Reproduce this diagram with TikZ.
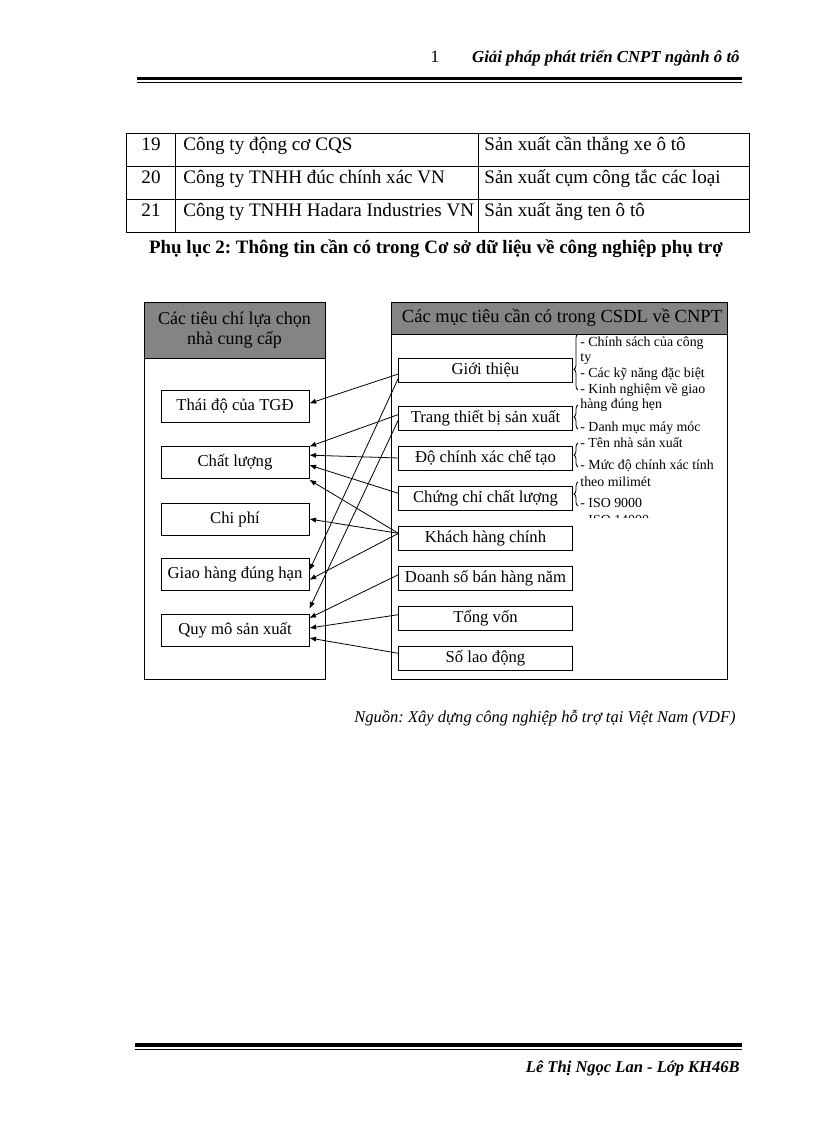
\documentclass[tikz,border=0pt]{standalone}
\usepackage{fontspec}
\setmainfont{Liberation Serif}
\usetikzlibrary{arrows.meta,decorations.pathreplacing}
\definecolor{headgray}{RGB}{132,132,132}
\frenchspacing

\begin{document}
\begin{tikzpicture}[x=0.75pt, y=-0.75pt, line width=0.6pt,
  tabtext/.style={font=\fontsize{14.3}{16}\selectfont, inner sep=0pt},
  crit/.style={rectangle, draw, minimum width=111pt, minimum height=24pt, font=\fontsize{12.5}{14}\selectfont},
  item/.style={rectangle, draw, minimum width=130pt, minimum height=18pt, inner sep=1pt, font=\fontsize{12.5}{14}\selectfont},
  note/.style={anchor=west, inner sep=0pt, font=\fontsize{10.4}{12}\selectfont},
  link/.style={-{Latex[length=5pt,width=4pt]}},
  bracket/.style={decorate, decoration={brace, amplitude=3pt, aspect=#1}}
]
  \useasboundingbox (0,0) rectangle (816,1123);
  % Header
  \node (page) [anchor=base, inner sep=0pt, font=\fontsize{13}{15}\selectfont] at (435,63) {1};
  \node (title) [anchor=base east, inner sep=0pt, font=\fontsize{12.6}{15}\selectfont\bfseries\itshape] at (740,63) {Giải pháp phát triển CNPT ngành ô tô};
  \draw[line width=2.3pt] (137,78.5) -- (742,78.5);
  \draw[line width=0.75pt] (137,82.3) -- (742,82.3);
  % Table
  \draw (126.7,133) rectangle (749,232);
  \draw (175.7,133) -- (175.7,232);
  \draw (478,133) -- (478,232);
  \draw (126.7,166) -- (749,166);
  \draw (126.7,199) -- (749,199);
  \node (n19) [tabtext, anchor=base] at (151,151) {19};
  \node (n20) [tabtext, anchor=base] at (151,184) {20};
  \node (n21) [tabtext, anchor=base] at (151,217) {21};
  \node (c19) [tabtext, anchor=base west] at (183,151) {Công ty động cơ CQS};
  \node (c20) [tabtext, anchor=base west] at (183,184) {Công ty TNHH đúc chính xác VN};
  \node (c21) [tabtext, anchor=base west] at (183,217) {Công ty TNHH Hadara Industries VN};
  \node (p19) [tabtext, anchor=base west] at (484,151) {Sản xuất cần thắng xe ô tô};
  \node (p20) [tabtext, anchor=base west] at (484,184) {Sản xuất cụm công tắc các loại};
  \node (p21) [tabtext, anchor=base west] at (484,217) {Sản xuất ăng ten ô tô};
  \node (caption) [anchor=base, inner sep=0pt, font=\fontsize{14.2}{16}\selectfont\bfseries] at (436,253) {Phụ lục 2: Thông tin cần có trong Cơ sở dữ liệu về công nghiệp phụ trợ};
  % Panels
  \draw (144,302) rectangle (325,679);
  \draw[fill=headgray] (144,302) rectangle (325,358);
  \draw (391,302) rectangle (727,679);
  \draw[fill=headgray] (391,302) rectangle (727,334);
  \node (lefthead) [align=center, font=\fontsize{13.5}{15}\selectfont] at (234.5,330) {Các tiêu chí lựa chọn\\nhà cung cấp};
  \node (righthead) [font=\fontsize{13.9}{15}\selectfont] at (562,318) {Các mục tiêu cần có trong CSDL về CNPT};
  % Nodes
  \node (thaido) [crit] at (235,406) {Thái độ của TGĐ};
  \node (chatluong) [crit] at (235,462.5) {Chất lượng};
  \node (chiphi) [crit] at (235,519) {Chi phí};
  \node (giaohang) [crit] at (235,574.5) {Giao hàng đúng hạn};
  \node (quymo) [crit] at (235,630) {Quy mô sản xuất};
  \node (gioithieu) [item] at (485.5,370) {Giới thiệu};
  \node (thietbi) [item] at (485.5,418.5) {Trang thiết bị sản xuất};
  \node (chinhxac) [item] at (485.5,458) {Độ chính xác chế tạo};
  \node (chungchi) [item] at (485.5,498) {Chứng chỉ chất lượng};
  \node (khachhang) [item] at (485.5,538) {Khách hàng chính};
  \node (doanhso) [item] at (485.5,578) {Doanh số bán hàng năm};
  \node (tongvon) [item] at (485.5,618) {Tổng vốn};
  \node (laodong) [item] at (485.5,658) {Số lao động};
  % Notes
  \begin{scope}
    \clip (578,334) rectangle (727,517);
    \node (t1) [note] at (580,343) {- Chính sách của công};
    \node (t2) [note] at (580,359) {ty};
    \node (t3) [note] at (580,374) {- Các kỹ năng đặc biệt};
    \node (t4) [note] at (580,390) {- Kinh nghiệm về giao};
    \node (t5) [note] at (580,405) {hàng đúng hẹn};
    \node (t6) [note] at (580,428) {- Danh mục máy móc};
    \node (t7) [note] at (580,443) {- Tên nhà sản xuất};
    \node (t8) [note] at (580,466) {- Mức độ chính xác tính};
    \node (t9) [note] at (580,482) {theo milimét};
    \node (t10) [note] at (580,503) {- ISO 9000};
    \node (t11) [note] at (580,520) {- ISO 14000};
  \end{scope}
  \draw[bracket=0.37] (578,390) -- (578,334);
  \draw[bracket=0.5] (578,429) -- (578,405);
  \draw[bracket=0.5] (578,467) -- (578,443);
  \draw[bracket=0.5] (578,506) -- (578,482);
  % Arrows
  \draw[link] ([yshift=-3pt]gioithieu.west) -- ([yshift=2pt]thaido.east);
  \draw[link] ([yshift=-6pt]gioithieu.west) -- ([yshift=3pt]giaohang.east);
  \draw[link] ([yshift=3pt]thietbi.west) -- ([yshift=12pt]chatluong.east);
  \draw[link] ([yshift=-1pt]thietbi.west) -- ([yshift=16pt]quymo.east);
  \draw[link] (chinhxac.west) -- ([yshift=5.5pt]chatluong.east);
  \draw[link] ([yshift=3.5pt]chungchi.west) -- ([yshift=-2pt]chatluong.east);
  \draw[link] ([yshift=3.5pt]khachhang.west) -- ([yshift=-13pt]chatluong.east);
  \draw[link] ([yshift=3.5pt]khachhang.west) -- (chiphi.east);
  \draw[link] ([yshift=3.5pt]khachhang.west) -- ([yshift=-4pt]giaohang.east);
  \draw[link] ([yshift=2.5pt]doanhso.west) -- ([yshift=9pt]quymo.east);
  \draw[link] ([yshift=2.5pt]tongvon.west) -- ([yshift=1.5pt]quymo.east);
  \draw[link] ([yshift=3.5pt]laodong.west) -- ([yshift=-6pt]quymo.east);
  % Footer
  \node (source) [anchor=east, inner sep=0pt, font=\fontsize{12.4}{15}\selectfont\itshape] at (736,718) {Nguồn: Xây dựng công nghiệp hỗ trợ tại Việt Nam (VDF)};
  \draw[line width=2.3pt] (135,1045) -- (742,1045);
  \draw[line width=0.75pt] (135,1049) -- (742,1049);
  \node (author) [anchor=east, inner sep=0pt, font=\fontsize{12.4}{15}\selectfont\bfseries\itshape] at (740,1068) {Lê Thị Ngọc Lan - Lớp KH46B};
\end{tikzpicture}
\end{document}
